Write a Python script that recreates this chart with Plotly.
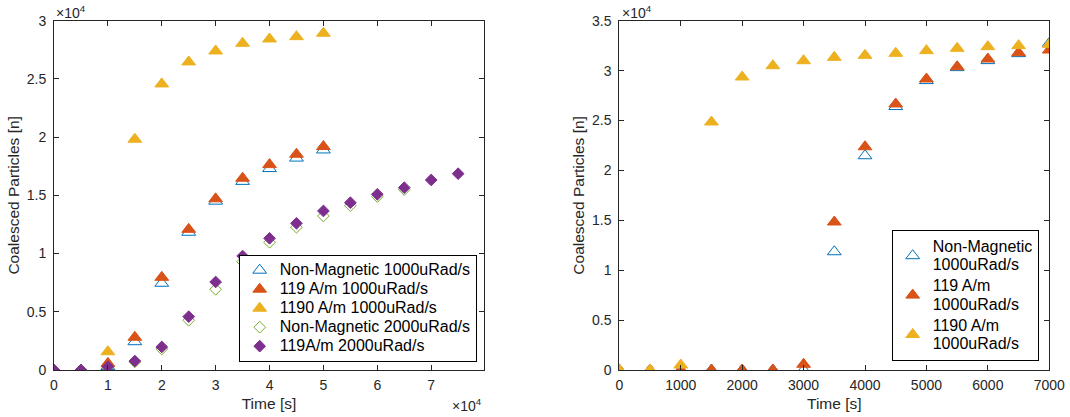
import plotly.graph_objects as go

# ---- data: left panel (long run, time in s) ----
t_1000 = [0, 5000, 10000, 15000, 20000, 25000, 30000, 35000, 40000, 45000, 50000]
nonmag_1000 = [0, 0, 300, 2430, 7450, 11830, 14500, 16200, 17300, 18200, 18900]
a119_1000 = [0, 0, 570, 2810, 7960, 12080, 14700, 16470, 17640, 18530, 19190]
a1190_1000 = [0, 0, 1570, 19820, 24570, 26460, 27400, 28060, 28430, 28630, 28920]

t_nonmag_2000 = [0, 5000, 10000, 15000, 20000, 25000, 30000, 35000, 40000,
                 45000, 50000, 55000, 60000, 65000]
nonmag_2000 = [0, 0, 200, 700, 1800, 4270, 6930, 9300, 10970,
               12260, 13230, 14120, 14900, 15500]

t_119_2000 = [0, 5000, 10000, 15000, 20000, 25000, 30000, 35000, 40000,
              45000, 50000, 55000, 60000, 65000, 70000, 75000]
a119_2000 = [0, 0, 280, 770, 1980, 4580, 7560, 9790, 11310,
             12600, 13660, 14370, 15090, 15660, 16320, 16860]

# ---- data: right panel (short run) ----
t_short = [0, 500, 1000, 1500, 2000, 2500, 3000, 3500, 4000, 4500, 5000, 5500, 6000, 6500, 7000]
nonmag_short = [0, 0, 0, 0, 0, 0, 0, 11850, 21470, 26400, 29000, 30300, 31000, 31700, 32740]
a119_short = [0, 0, 0, 0, 0, 0, 570, 14830, 22370, 26650, 29160, 30390, 31160, 31800, 32060]
a1190_short = [0, 0, 500, 24850, 29360, 30490, 30990, 31330, 31530, 31730, 32000, 32230, 32400, 32500, 32630]

# tick labels
left_x_ticks = [0, 10000, 20000, 30000, 40000, 50000, 60000, 70000]
left_x_text = ["0", "1", "2", "3", "4", "5", "6", "7"]
left_y_ticks = [0, 5000, 10000, 15000, 20000, 25000, 30000]
left_y_text = ["0", "0.5", "1", "1.5", "2", "2.5", "3"]
right_x_ticks = [0, 1000, 2000, 3000, 4000, 5000, 6000, 7000]
right_y_ticks = [0, 5000, 10000, 15000, 20000, 25000, 30000, 35000]
right_y_text = ["0", "0.5", "1", "1.5", "2", "2.5", "3", "3.5"]

BLUE = "#0072BD"
RED = "#D95319"
YELLOW = "#EDB120"
GREEN = "#77AC30"
PURPLE = "#7E2F8E"
AXC = "#262626"
FONT = "Liberation Sans, Arial, Helvetica, sans-serif"

TRI = 12
DIA = 9
LEG_TEXT = 16


def big(label):
    # legend label drawn larger than the legend's row-height font
    return f"<span style='font-size:{LEG_TEXT}px'>{label}</span>"


fig = go.Figure()


def add(x, y, name, color, symbol, size, xa, ya, legend):
    fig.add_trace(go.Scatter(
        x=x, y=y, name=big(name), mode="markers",
        xaxis=xa, yaxis=ya, legend=legend,
        marker=dict(symbol=symbol, size=size, color=color,
                    line=dict(color=color, width=1)),
    ))


# left panel
add(t_1000, nonmag_1000, "Non-Magnetic 1000uRad/s", BLUE, "triangle-up-open", TRI, "x", "y", "legend")
add(t_1000, a119_1000, "119 A/m 1000uRad/s", RED, "triangle-up", TRI, "x", "y", "legend")
add(t_1000, a1190_1000, "1190 A/m 1000uRad/s", YELLOW, "triangle-up", TRI, "x", "y", "legend")
add(t_nonmag_2000, nonmag_2000, "Non-Magnetic 2000uRad/s", GREEN, "diamond-open", DIA, "x", "y", "legend")
add(t_119_2000, a119_2000, "119A/m 2000uRad/s", PURPLE, "diamond", DIA, "x", "y", "legend")

# right panel
add(t_short, nonmag_short, "Non-Magnetic<br>1000uRad/s", BLUE, "triangle-up-open", TRI, "x2", "y2", "legend2")
add(t_short, a119_short, "119 A/m<br>1000uRad/s", RED, "triangle-up", TRI, "x2", "y2", "legend2")
add(t_short, a1190_short, "1190 A/m<br>1000uRad/s", YELLOW, "triangle-up", TRI, "x2", "y2", "legend2")

W, H = 1070, 417
y_dom = [(H - 370) / H, (H - 20.7) / H]


def axis(domain, rng, tickvals, ticktext, title, anchor, standoff, label_gap):
    d = dict(
        domain=domain, range=rng, anchor=anchor,
        tickmode="array", tickvals=tickvals,
        showline=True, linecolor=AXC, linewidth=1, mirror="ticks",
        ticks="inside", ticklen=5, tickwidth=1, tickcolor=AXC,
        showgrid=False, zeroline=False,
        tickfont=dict(family=FONT, size=14, color=AXC),
        ticklabelstandoff=label_gap,
        title=dict(text=title, font=dict(family=FONT, size=15.5, color=AXC), standoff=standoff),
        automargin=False,
    )
    if ticktext is not None:
        d["ticktext"] = ticktext
    return d


ly = axis(y_dom, [0, 30000], left_y_ticks, left_y_text, "Coalesced Particles [n]", "x", 3, 4)
ry = axis(y_dom, [0, 35000], right_y_ticks, right_y_text, "Coalesced Particles [n]", "x2", 3, 4)
lx = axis([54 / W, 484 / W], [0, 79800], left_x_ticks, left_x_text, "Time [s]", "y", 6, 2)
rx = axis([619.3 / W, 1049.3 / W], [0, 7000], right_x_ticks, None, "Time [s]", "y2", 6, 2)

legend_box = dict(bgcolor="white", bordercolor="#000000", borderwidth=1, tracegroupgap=0)

fig.update_layout(
    width=W, height=H,
    margin=dict(l=0, r=0, t=0, b=0),
    paper_bgcolor="white", plot_bgcolor="white",
    font=dict(family=FONT, color=AXC),
    xaxis=lx, yaxis=ly, xaxis2=rx, yaxis2=ry,
    legend=dict(x=476.7 / W, y=(H - 361.7) / H, xanchor="right", yanchor="bottom",
                font=dict(family=FONT, size=12, color="#000000"), **legend_box),
    legend2=dict(x=1038.7 / W, y=(H - 361) / H, xanchor="right", yanchor="bottom",
                 font=dict(family=FONT, size=14, color="#000000"), **legend_box),
    showlegend=True,
)

# axis exponent multipliers
exp_txt = "\u00d710<sup>4</sup>"
for xp, yp, anchor in [(54 / W, (H - 12) / H, "left"),
                       (620 / W, (H - 12) / H, "left"),
                       (484 / W, (H - 405) / H, "right")]:
    fig.add_annotation(text=exp_txt, xref="paper", yref="paper", x=xp, y=yp,
                       xanchor=anchor, yanchor="middle", showarrow=False,
                       font=dict(family=FONT, size=14, color=AXC))

fig.write_html("out.html")
